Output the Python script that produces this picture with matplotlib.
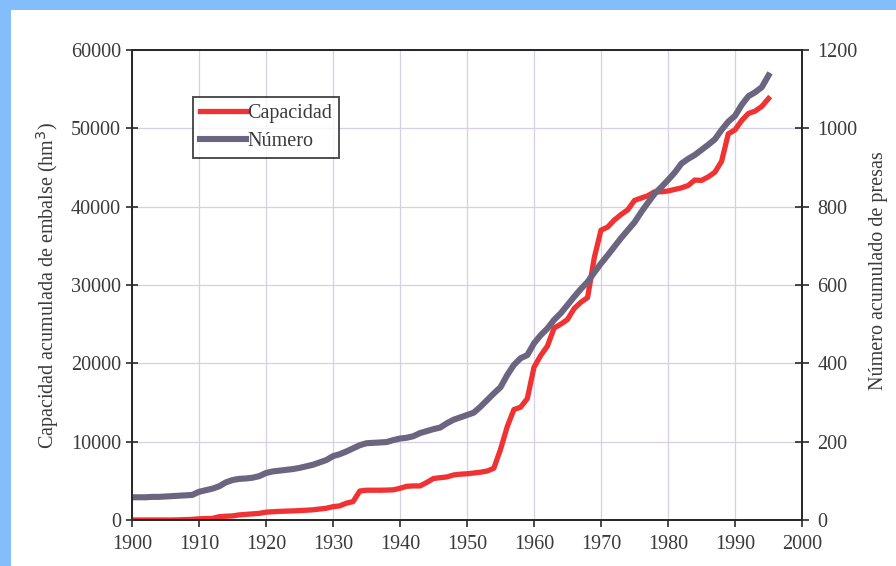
import matplotlib
matplotlib.use("Agg")
import matplotlib.pyplot as plt
from matplotlib.patches import Rectangle

years = list(range(1900, 1996))

capacidad = [
    0, 0, 0, 0, 0, 0, 0, 20, 50, 80,
    150, 180, 200, 420, 480, 520, 650, 720, 780, 850,
    1000, 1050, 1100, 1130, 1160, 1200, 1250, 1300, 1400, 1500,
    1700, 1800, 2150, 2350, 3700, 3800, 3800, 3800, 3820, 3850,
    4050, 4300, 4350, 4350, 4800, 5300, 5400, 5500, 5750, 5850,
    5900, 6000, 6100, 6250, 6600, 9000, 11900, 14100, 14400, 15500,
    19500, 21000, 22200, 24500, 25000, 25600, 27000, 27800, 28400, 33500,
    37000, 37400, 38300, 39000, 39600, 40800, 41100, 41400, 41900, 41900,
    42000, 42200, 42400, 42700, 43400, 43350, 43800, 44400, 45800, 49300,
    49800, 51000, 51900, 52200, 52800, 53800,
]

numero = [
    58, 58, 58, 59, 59, 60, 61, 62, 63, 64,
    72, 76, 80, 86, 96, 102, 105, 106, 108, 112,
    120, 124, 126, 128, 130, 133, 137, 141, 147, 153,
    163, 168, 175, 183, 191, 196, 197, 198, 199, 204,
    208, 210, 214, 222, 227, 232, 236, 247, 256, 262,
    268, 274, 289, 306, 323, 339, 370, 396, 413, 421,
    451, 472, 489, 511, 528, 549, 570, 590, 608, 632,
    655, 676, 698, 720, 740, 760, 786, 810, 833, 850,
    868, 887, 910, 922, 932, 945, 958, 972, 996, 1017,
    1032, 1060, 1082, 1092, 1105, 1135,
]

x_ticks = list(range(1900, 2001, 10))
left_ticks = list(range(0, 60001, 10000))
right_ticks = list(range(0, 1201, 200))

plt.rcParams["font.family"] = ["Liberation Serif", "DejaVu Serif"]
text_color = "#3a3a3a"
spine_color = "#2a2a2a"

fig = plt.figure(figsize=(8.96, 5.66), dpi=100, facecolor="#84bdfc")
# white page on the blue frame
fig.patches.append(Rectangle((11 / 896, 0), 1, 1 - 10 / 566, transform=fig.transFigure,
                             facecolor="white", edgecolor="none", zorder=-10))

ax = fig.add_axes([132 / 896, 1 - 520 / 566, 670 / 896, 470 / 566])
ax.set_facecolor("none")
ax2 = ax.twinx()

l1, = ax.plot(years, capacidad, color="#f03232", lw=3.8, solid_joinstyle="round",
              label="Capacidad")
l2, = ax2.plot(years, numero, color="#6c6580", lw=4.4, solid_joinstyle="round",
               label="Número")

ax.set_xlim(1900, 2000)
ax.set_ylim(0, 60000)
ax2.set_ylim(0, 1200)
ax.set_xticks(x_ticks)
ax.set_yticks(left_ticks)
ax2.set_yticks(right_ticks)

ax.grid(True, color="#d6cfe6", lw=0.9)
ax.set_axisbelow(True)

for a in (ax, ax2):
    for s in a.spines.values():
        s.set_color(spine_color)
        s.set_linewidth(1.4)

ax.tick_params(axis="x", direction="out", length=5, width=1.2, colors=spine_color,
               labelcolor=text_color, labelsize=14.5, pad=6)
ax.tick_params(axis="y", direction="inout", length=8, width=1.2, colors=spine_color,
               labelcolor=text_color, labelsize=14.5, pad=4)
ax2.tick_params(axis="y", direction="inout", length=10, width=1.2, colors=spine_color,
                labelcolor=text_color, labelsize=14.5, pad=6)

ax.set_ylabel("Capacidad acumulada de embalse (hm$^3$)", fontsize=14.5, color=text_color,
              labelpad=7)
ax2.set_ylabel("Número acumulado de presas", fontsize=14.5, color=text_color)
ax2.yaxis.set_label_coords(1.1, 0.53)

leg = ax2.legend(handles=[l1, l2], loc="upper left", bbox_to_anchor=(0.091, 0.9),
                 borderaxespad=0, fontsize=14.5, frameon=True, fancybox=False,
                 handlelength=2.3, handletextpad=0.05, borderpad=0.35,
                 labelspacing=0.45, labelcolor=text_color)
leg.get_frame().set_edgecolor("#222222")
leg.get_frame().set_linewidth(1.4)

fig.savefig("out.png", dpi=100, facecolor=fig.get_facecolor())
